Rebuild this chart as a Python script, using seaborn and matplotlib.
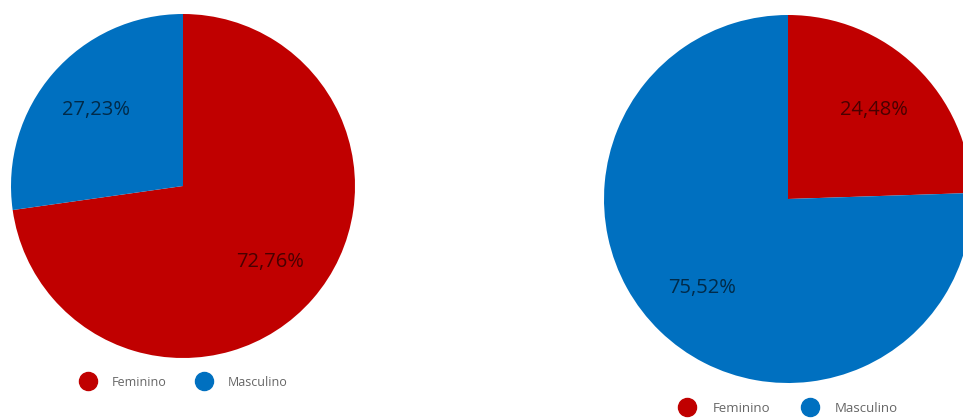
import matplotlib
matplotlib.use("Agg")
import matplotlib.pyplot as plt
from matplotlib.lines import Line2D
import seaborn as sns
import numpy as np

# Data
categories = ["Feminino", "Masculino"]
left_values = [72.76, 27.23]
right_values = [24.48, 75.52]
left_labels = ["72,76%", "27,23%"]
right_labels = ["24,48%", "75,52%"]
colors = ["#C00000", "#0070C0"]

sns.set_theme(style="white")
plt.rcParams["font.family"] = ["Open Sans", "DejaVu Sans"]

W, H = 963, 418
fig = plt.figure(figsize=(W / 100, H / 100), dpi=100)


def pie_axes(cx, cy, r):
    # axes placed in pixel coords so the pie keeps its size
    return fig.add_axes([(cx - r) / W, (H - cy - r) / H, 2 * r / W, 2 * r / H])


def draw_pie(ax, values, labels):
    ax.pie(values, colors=colors, startangle=90, counterclock=False,
           radius=1, wedgeprops=dict(linewidth=0))
    start = 90
    total = sum(values)
    for v, lab in zip(values, labels):
        mid = np.deg2rad(start - v / total * 180)
        start -= v / total * 360
        ax.text(0.67 * np.cos(mid), 0.67 * np.sin(mid), lab, ha="center",
                va="center", fontsize=14.5, color="black", alpha=0.62)
    ax.set_xlim(-1, 1)
    ax.set_ylim(-1, 1)
    ax.axis("off")


ax1 = pie_axes(183, 186, 172)
draw_pie(ax1, left_values, left_labels)

ax2 = pie_axes(788, 199, 184)
draw_pie(ax2, right_values, right_labels)

handles = [Line2D([], [], marker="o", linestyle="", markersize=13,
                  markerfacecolor=c, markeredgecolor=c) for c in colors]
for x, y, fs in [(181, 382, 9), (786, 408, 9.5)]:
    fig.legend(handles, categories, loc="center", bbox_to_anchor=(x / W, 1 - y / H),
               ncol=2, frameon=False, fontsize=fs, labelcolor="#666666",
               handletextpad=0.9, columnspacing=2.0)

plt.savefig("out.png", dpi=100)
